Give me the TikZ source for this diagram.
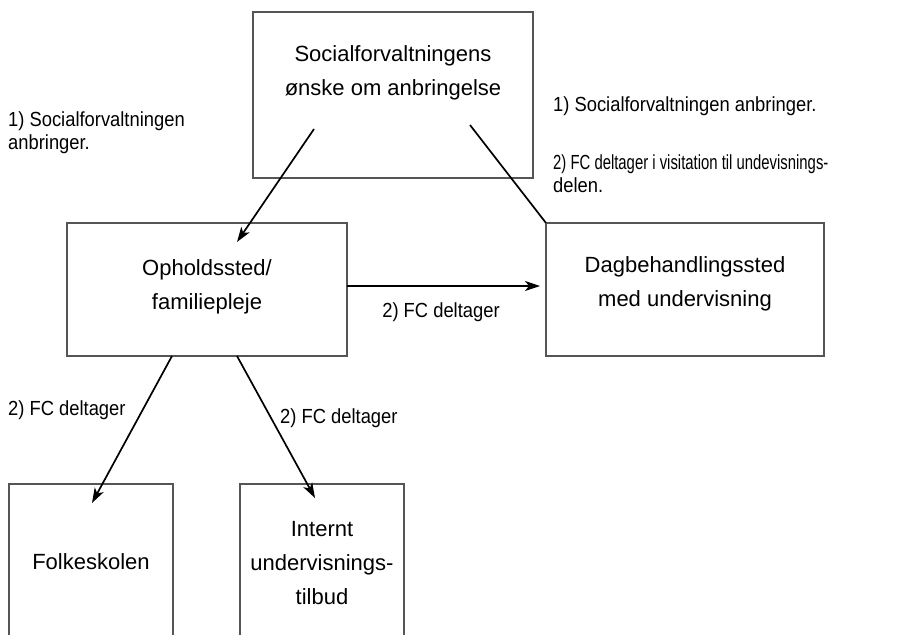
\documentclass[tikz,border=0pt]{standalone}
\usepackage{graphicx}
\usepackage{fontspec}
\setmainfont{Liberation Sans}
\newfontfamily\narrowfont[FakeStretch=0.9]{Liberation Sans}
\usepackage{tikz}
\usetikzlibrary{arrows.meta, positioning, calc}
\definecolor{boxgray}{RGB}{85,85,85}
\tikzset{
  box/.style={rectangle, draw=boxgray, fill=white, line width=1.3pt,
    inner sep=0pt, outer sep=0pt},
  boxtext/.style={align=center, font=\fontsize{22}{34}\selectfont, inner sep=0pt},
  lbl/.style={align=left, font=\narrowfont\fontsize{20.4}{23}\selectfont, inner sep=0pt},
  arrow/.style={-{Stealth[length=15pt, width=10pt, inset=4pt]}, line width=1.7pt, color=black},
  line/.style={line width=1.7pt, color=black}
}

\begin{document}
\begin{tikzpicture}[x=1pt, y=-1pt]
  \useasboundingbox (0,0) rectangle (903,635);
  \fill[white] (0,0) rectangle (903,635);
  \clip (0,0) rectangle (903,635);

  % boxes
  \node[box, minimum width=280pt, minimum height=166pt] (soc) at (393,95) {};
  \node[box, minimum width=280pt, minimum height=133pt] (ophold) at (207,289.5) {};
  \node[box, minimum width=278pt, minimum height=133pt] (dag) at (685,289.5) {};
  \node[box, minimum width=164pt, minimum height=216pt] (folk) at (91,592) {};
  \node[box, minimum width=164pt, minimum height=216pt] (intern) at (322,592) {};

  % box texts
  \node[boxtext] (soctxt) at (393,72.5) {Socialforvaltningens\\ønske om anbringelse};
  \node[boxtext] (ophtxt) at (207,287) {Opholdssted/\\familiepleje};
  \node[boxtext] (dagtxt) at (685,284) {Dagbehandlingssted\\med undervisning};
  \node[boxtext] (folktxt) at (91,562) {Folkeskolen};
  \node[boxtext] (inttxt) at (322,563) {Internt\\undervisnings-\\tilbud};

  % labels
  \node[lbl, anchor=west] (lblsocl) at (8,132.5) {1) Socialforvaltningen\\anbringer.};
  \node[lbl, anchor=west] (lblsocr) at (553,106) {1) Socialforvaltningen anbringer.};
  \node[lbl, anchor=west] (lblvis) at (553,173.5)
    {\scalebox{0.81}[1]{2) FC deltager i visitation til undevisnings-}\\delen.};
  \node[lbl] (lbldag) at (441,312) {2) FC deltager};
  \node[lbl, anchor=west] (lblfolk) at (8,410) {2) FC deltager};
  \node[lbl, anchor=west] (lblint) at (280,418) {2) FC deltager};

  % connector ends
  \coordinate (socA) at ($(soc.south west)+(61,-49)$);
  \coordinate (socB) at ($(soc.south west)+(217,-53)$);
  \coordinate (ophIn) at ($(ophold.north west)+(170,19)$);
  \coordinate (ophL) at ($(ophold.south west)+(105,0)$);
  \coordinate (ophR) at ($(ophold.south west)+(170,0)$);
  \coordinate (folkIn) at ($(folk.north west)+(83,19)$);
  \coordinate (intIn) at ($(intern.north west)+(75,14)$);

  \draw[arrow] (socA) -- (ophIn);
  \draw[line] (socB) -- (dag.north west);
  \draw[arrow] ([yshift=3.5pt]ophold.east) -- ([xshift=-6pt, yshift=3.5pt]dag.west);
  \draw[arrow] (ophL) -- (folkIn);
  \draw[arrow] (ophR) -- (intIn);
\end{tikzpicture}
\end{document}
